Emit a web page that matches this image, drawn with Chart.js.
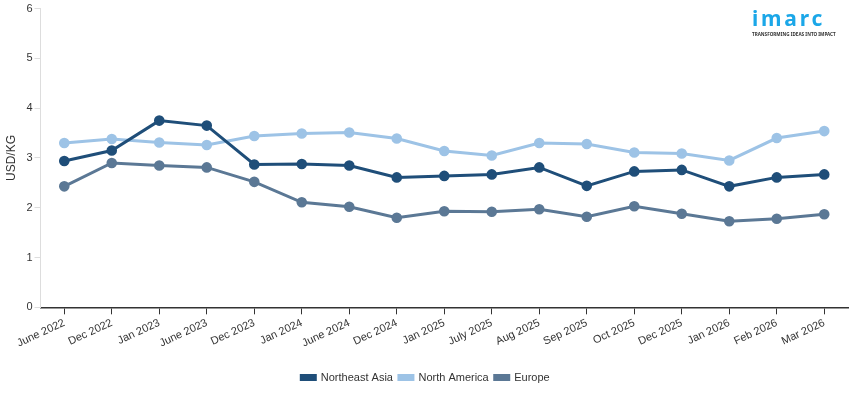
<!DOCTYPE html>
<html>
<head>
<meta charset="utf-8">
<script src="https://cdn.jsdelivr.net/npm/chart.js@4"></script>
<style>
  html, body { margin: 0; padding: 0; background: #fff; }
  #wrap { position: relative; width: 855px; height: 393px; }
  #logo { position: absolute; left: 752px; top: 3px; font-family: "Noto Sans", Arial, sans-serif; color: #1ba7e8; width: 80px; }
  #logo .name { font-size: 21px; font-weight: 700; letter-spacing: 2.8px; line-height: 30px; }
  #logo .tag { font-size: 5px; font-weight: 700; color: #333; margin-top: -2px; white-space: nowrap; transform: scaleX(0.92); transform-origin: left; }
</style>
</head>
<body>
<div id="wrap">
  <canvas id="chart" width="855" height="393"></canvas>
  <div id="logo"><div class="name">imarc</div><div class="tag">TRANSFORMING IDEAS INTO IMPACT</div></div>
</div>
<script>
const labels = ['June 2022', 'Dec 2022', 'Jan 2023', 'June 2023', 'Dec 2023', 'Jan 2024', 'June 2024', 'Dec 2024',
  'Jan 2025', 'July 2025', 'Aug 2025', 'Sep 2025', 'Oct 2025', 'Dec 2025', 'Jan 2026', 'Feb 2026', 'Mar 2026'];

const northeastAsia = [2.94, 3.15, 3.75, 3.65, 2.87, 2.88, 2.85, 2.61, 2.64, 2.67, 2.81, 2.44, 2.73, 2.76, 2.43, 2.61, 2.67];
const northAmerica = [3.30, 3.38, 3.31, 3.26, 3.44, 3.49, 3.51, 3.39, 3.14, 3.05, 3.30, 3.28, 3.11, 3.09, 2.95, 3.40, 3.54];
const europe = [2.43, 2.90, 2.85, 2.81, 2.52, 2.11, 2.02, 1.80, 1.93, 1.92, 1.97, 1.82, 2.03, 1.88, 1.73, 1.78, 1.87];

const font = { family: 'Arial, "Liberation Sans", sans-serif', size: 11 };

function series(label, data, color) {
  return {
    label, data,
    borderColor: color,
    backgroundColor: color,
    borderWidth: 3,
    pointRadius: 3.8,
    pointHoverRadius: 4,
    tension: 0
  };
}

new Chart(document.getElementById('chart'), {
  type: 'line',
  data: {
    labels,
    datasets: [
      series('Northeast Asia', northeastAsia, '#1f4e79'),
      series('North America', northAmerica, '#9dc3e6'),
      series('Europe', europe, '#5b7895')
    ]
  },
  options: {
    responsive: false,
    animation: false,
    layout: { padding: { top: 0, right: 6, left: 2, bottom: 0 } },
    plugins: {
      legend: {
        position: 'bottom',
        labels: { boxWidth: 14, boxHeight: 4, color: '#333', font, padding: 6 }
      },
      tooltip: { enabled: false }
    },
    scales: {
      x: {
        offset: true,
        grid: { offset: false, drawOnChartArea: false, color: '#333', tickLength: 7 },
        border: { color: '#333', width: 1.5 },
        ticks: { color: '#333', font, maxRotation: 25, minRotation: 25, padding: 2 },
        afterFit(scale) { scale.height += 14; }
      },
      y: {
        min: 0, max: 6,
        ticks: { stepSize: 1, color: '#333', font, padding: 2 },
        grid: { drawOnChartArea: false, color: '#ddd', tickLength: 6 },
        border: { color: '#ddd' },
        title: { display: true, text: 'USD/KG', color: '#333', font: { ...font, size: 12 }, padding: 2 },
        afterFit(scale) { scale.width += 4; }
      }
    }
  }
});
</script>
</body>
</html>
